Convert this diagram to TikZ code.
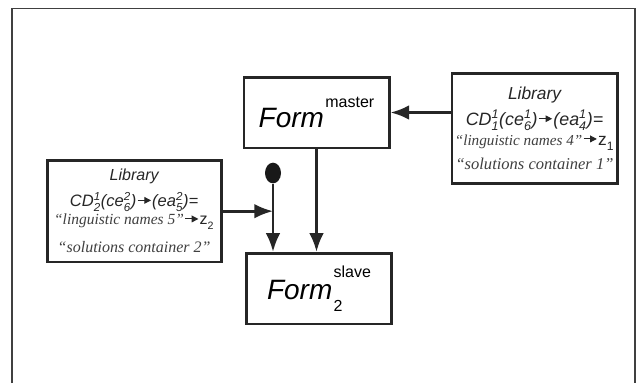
\documentclass[tikz,border=0pt]{standalone}
\usepackage{amsmath}
\usepackage{fontspec}
\setmainfont{Liberation Serif}
\setsansfont{Liberation Sans}
\usepackage{tikz}
\usetikzlibrary{arrows.meta,positioning,shapes.geometric}

% stacked super- and subscript in the current text font
\newcommand{\supsub}[2]{$^{\text{#1}}_{\text{#2}}$}
% small filled arrow inside the library texts
\newcommand{\maps}{\kern0.5pt\tikz[baseline=-0.7ex]\draw[line width=0.8pt,-{Triangle[length=5pt,width=5pt]}] (0pt,0pt) -- (10pt,0pt);\kern0.5pt}

\begin{document}
\begin{tikzpicture}[x=0.75pt, y=-0.75pt,
    block/.style={rectangle, draw=black!85, line width=2pt, fill=white, inner sep=0pt, minimum width=109pt, minimum height=53pt},
    library/.style={block, align=center, text=black!85},
    arrow/.style={draw, line width=2pt, color=black!85, -{Latex[length=14pt,width=11pt]}},
    pin/.style={ellipse, fill=black!90, minimum width=12pt, minimum height=15.5pt, inner sep=0pt}
]
    \useasboundingbox (0,0) rectangle (638,383);
    % Frame (open at the bottom)
    \draw[black!75, line width=1.2pt] (12,383) -- (12,8.5) -- (635,8.5) -- (635,383);

    % Forms
    \node[block] (master) at (316.5,112.5)
        {\fontsize{21}{21}\selectfont\sffamily\itshape Form\kern1pt\raisebox{15pt}{\upshape\fontsize{12}{12}\selectfont master}};
    \node[block, below=77pt of master, xshift=1.9pt] (slave)
        {\fontsize{21}{21}\selectfont\sffamily\itshape Form\kern1pt\upshape\fontsize{12}{12}\selectfont\makebox[0pt][l]{\raisebox{-9pt}{2}}\raisebox{16.5pt}{slave}};

    % Libraries
    \node[library, minimum width=130.5pt, minimum height=76pt, left=15pt of master.south west, anchor=north east, yshift=-7.5pt, font=\fontsize{12}{19.2}\selectfont] (leftlib)
        {{\sffamily\itshape Library}\\
         {\fontsize{12.4}{19.2}\selectfont\sffamily\itshape CD\supsub{1}{2}(ce\supsub{2}{6})\maps(ea\supsub{2}{5})=}\\[-5.4pt]
         {\fontsize{11.6}{19.2}\selectfont\color{black!75}\itshape “linguistic names 5”}{\sffamily\maps z\supsub{}{2}}\\[1.8pt]
         {\fontsize{12}{19.2}\selectfont\color{black!75}\itshape “solutions container 2”}};
    \node[library, minimum width=124pt, minimum height=82.5pt, right=45pt of master.north east, anchor=north west, yshift=3pt, font=\fontsize{13}{19.5}\selectfont] (rightlib)
        {{\sffamily\itshape Library}\\
         {\fontsize{13.4}{19.5}\selectfont\sffamily\itshape CD\supsub{1}{1}(ce\supsub{1}{6})\maps(ea\supsub{1}{4})=}\\[-4.5pt]
         {\fontsize{11.4}{19.5}\selectfont\color{black!75}\itshape “linguistic names 4”}{\sffamily\maps z\supsub{}{1}}\\[-1.5pt]
         {\fontsize{12.4}{19.5}\selectfont\color{black!75}\itshape “solutions container 1”}};

    % Start marker
    \node[pin] (dot) at (273,173) {};
    \coordinate (join) at (dot |- leftlib.east);

    % Arrows
    \path [arrow] (leftlib.east) -- (join);
    \path [arrow] (dot) -- (dot |- slave.north);
    \path [arrow] (master) -- (master |- slave.north);
    \path [arrow] (rightlib.west |- master.east) -- (master.east);
\end{tikzpicture}
\end{document}
